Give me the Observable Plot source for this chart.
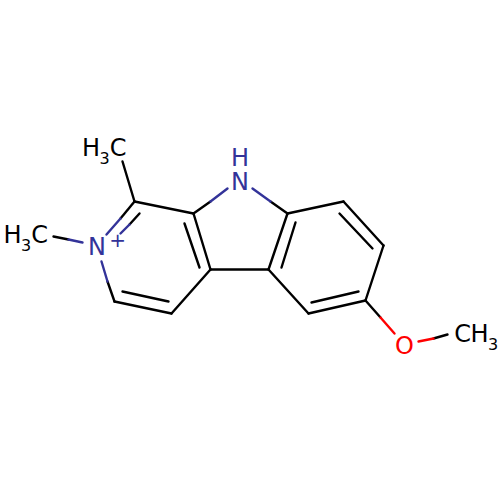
<!DOCTYPE html>
<html><head><meta charset="utf-8">
<script src="https://cdn.jsdelivr.net/npm/d3@7"></script>
<script src="https://cdn.jsdelivr.net/npm/@observablehq/plot@0.6"></script>
<style>html,body{margin:0;padding:0;background:#fff}svg{display:block}</style>
</head><body><div id="chart"></div>
<script>
const black = "#000000", blue = "#333399", red = "#ff0000";
// bond segments: [x1, y1, x2, y2]
const blackBonds = [
  [134,201,122,161],[134,201,193,213],[134,201,120,218],[139,213,129,224],
  [53,236,68,239],[107,281,114,301],[114,301,171,313],[122,291,168,301],
  [171,313,210,269],[210,269,193,213],[199,267,184,223],[210,269,268,269],
  [193,213,210,201],[270,201,287,213],[287,213,268,269],[295,222,281,267],
  [287,213,343,201],[343,201,383,245],[339,213,372,248],[383,245,365,300],
  [365,300,308,313],[358,291,311,302],[308,313,268,269],[365,300,380,317],
  [433,338,447,334]
];
const blueBonds = [
  [120,218,106,234],[129,224,120,233],[68,239,82,242],[101,261,107,281],
  [210,201,227,188],[252,188,270,201]
];
const redBonds = [[380,317,394,333],[418,341,433,338]];
const labelText = ["H","3","C","H","3","C","N","+","H","N","O","C","H","3"];
const labelX    = [ 90.5,104,117.5, 12, 25.5, 39, 96.5,117,239.5,239.5,404,462,479,492.5];
const labelY    = [147.5,158,147.5,234.5,245.5,234.5,246.5,240,158,182,345.5,333.5,333.5,344];
const labelSize = [ 24, 16, 24, 24, 16, 24, 24, 20, 24, 24, 24, 24, 24, 16];
const labelFill = [black,black,black,black,black,black,blue,blue,blue,blue,red,black,black,black];

const bonds = [
  ...blackBonds.map(b => [...b, black]),
  ...blueBonds.map(b => [...b, blue]),
  ...redBonds.map(b => [...b, red])
];
const labels = labelText.map((t,i) => ({t, x:labelX[i], y:labelY[i], s:labelSize[i], c:labelFill[i]}));

const chart = Plot.plot({
  width:500, height:500, margin:0,
  x:{domain:[0,500], range:[0,500], axis:null},
  y:{domain:[0,500], range:[0,500], axis:null},
  style:{background:"#fff", fontFamily:"DejaVu Sans"},
  marks:[
    Plot.link(bonds,{x1:d=>d[0],y1:d=>d[1],x2:d=>d[2],y2:d=>d[3],stroke:d=>d[4],strokeWidth:2.4,strokeLinecap:"round",strokeOpacity:1}),
    ...labels.map(l => Plot.text([l],{x:"x",y:"y",text:"t",fill:"c",fontSize:l.s,textAnchor:"middle",lineAnchor:"middle",fontFamily:"DejaVu Sans"}))
  ]
});
document.getElementById("chart").append(chart);
</script></body></html>
